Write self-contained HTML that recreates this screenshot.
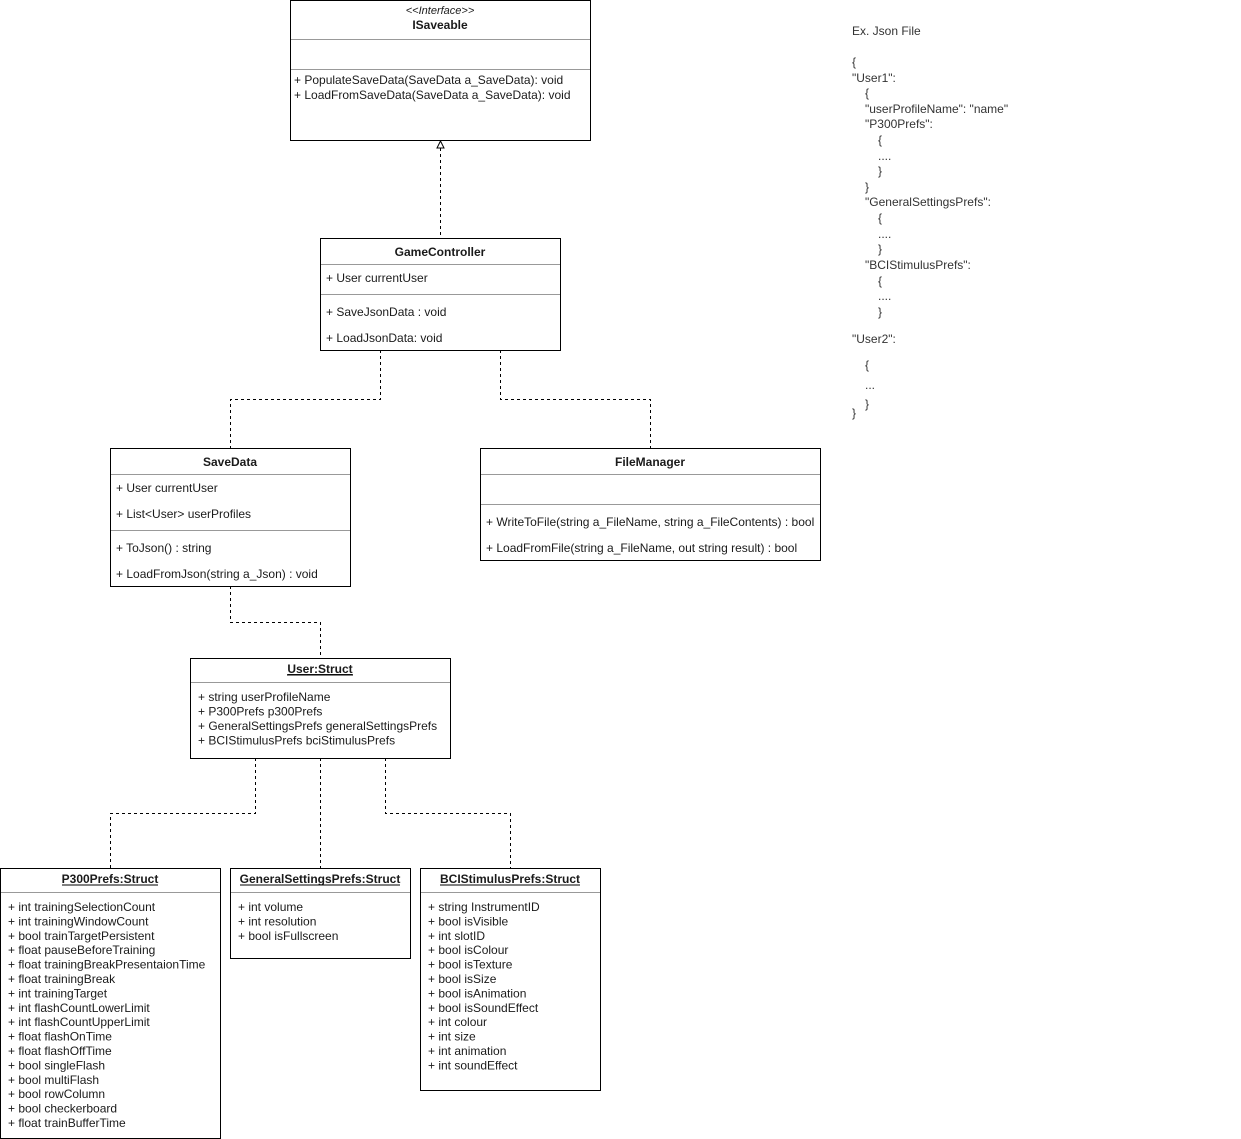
<!DOCTYPE html>
<html><head><meta charset="utf-8"><style>
html,body{margin:0;padding:0;background:#fff;}
svg{display:block;}
text{font-family:"Liberation Sans",Arial,sans-serif;font-size:12px;fill:#1a1a1a;}
.b{font-weight:bold;}
.c{text-anchor:middle;}
.j{fill:#333;}
</style></head><body>
<svg width="1241" height="1139" viewBox="0 0 1241 1139" xmlns="http://www.w3.org/2000/svg">
<g fill="none" stroke="#000" stroke-width="1" stroke-dasharray="3,3">
<line x1="440.5" y1="148" x2="440.5" y2="238"/>
<polyline points="380.5,350 380.5,399.5 230.5,399.5 230.5,448"/>
<polyline points="500.5,350 500.5,399.5 650.5,399.5 650.5,448"/>
<polyline points="230.5,586 230.5,622.5 320.5,622.5 320.5,658"/>
<polyline points="255.5,758 255.5,813.5 110.5,813.5 110.5,868"/>
<line x1="320.5" y1="758" x2="320.5" y2="868"/>
<polyline points="385.5,758 385.5,813.5 510.5,813.5 510.5,868"/>
</g>
<polygon points="440.5,141 437,148 444,148" fill="#fff" stroke="#000"/>
<g fill="#fff" stroke="#000">
<rect x="290.5" y="0.5" width="300" height="140"/>
<rect x="320.5" y="238.5" width="240" height="112"/>
<rect x="110.5" y="448.5" width="240" height="138"/>
<rect x="480.5" y="448.5" width="340" height="112"/>
<rect x="190.5" y="658.5" width="260" height="100"/>
<rect x="0.5" y="868.5" width="220" height="270"/>
<rect x="230.5" y="868.5" width="180" height="90"/>
<rect x="420.5" y="868.5" width="180" height="222"/>
</g>
<g stroke="#999">
<line x1="291" y1="39.5" x2="590" y2="39.5"/><line x1="291" y1="69.5" x2="590" y2="69.5"/>
<line x1="321" y1="264.5" x2="560" y2="264.5"/><line x1="321" y1="294.5" x2="560" y2="294.5"/>
<line x1="111" y1="474.5" x2="350" y2="474.5"/><line x1="111" y1="530.5" x2="350" y2="530.5"/>
<line x1="481" y1="474.5" x2="820" y2="474.5"/><line x1="481" y1="504.5" x2="820" y2="504.5"/>
<line x1="191" y1="682.5" x2="450" y2="682.5"/>
<line x1="1" y1="892.5" x2="220" y2="892.5"/>
<line x1="231" y1="892.5" x2="410" y2="892.5"/>
<line x1="421" y1="892.5" x2="600" y2="892.5"/>
</g>
<text x="440" y="14" class="c" font-style="italic" style="font-size:11px">&lt;&lt;Interface&gt;&gt;</text>
<text x="440" y="29" class="c b">ISaveable</text>
<text x="294" y="84">+ PopulateSaveData(SaveData a_SaveData): void</text>
<text x="294" y="99">+ LoadFromSaveData(SaveData a_SaveData): void</text>

<text x="440" y="256" class="c b">GameController</text>
<text x="326" y="282">+ User currentUser</text>
<text x="326" y="316">+ SaveJsonData : void</text>
<text x="326" y="342">+ LoadJsonData: void</text>

<text x="230" y="466" class="c b">SaveData</text>
<text x="116" y="492">+ User currentUser</text>
<text x="116" y="518">+ List&lt;User&gt; userProfiles</text>
<text x="116" y="552">+ ToJson() : string</text>
<text x="116" y="578">+ LoadFromJson(string a_Json) : void</text>

<text x="650" y="466" class="c b">FileManager</text>
<text x="486" y="526">+ WriteToFile(string a_FileName, string a_FileContents) : bool</text>
<text x="486" y="552">+ LoadFromFile(string a_FileName, out string result) : bool</text>

<text x="320" y="673" class="c b" text-decoration="underline">User:Struct</text>
<line x1="287" y1="675" x2="353" y2="675" stroke="#000"/>
<text x="198" y="701">+ string userProfileName</text>
<text x="198" y="715.5">+ P300Prefs p300Prefs</text>
<text x="198" y="730">+ GeneralSettingsPrefs generalSettingsPrefs</text>
<text x="198" y="744.5">+ BCIStimulusPrefs bciStimulusPrefs</text>

<text x="110" y="883" class="c b">P300Prefs:Struct</text>
<line x1="62" y1="885" x2="158" y2="885" stroke="#000"/>
<text x="320" y="883" class="c b">GeneralSettingsPrefs:Struct</text>
<line x1="240" y1="885" x2="400" y2="885" stroke="#000"/>
<text x="510" y="883" class="c b">BCIStimulusPrefs:Struct</text>
<line x1="440" y1="885" x2="580" y2="885" stroke="#000"/>

<g>
<text x="8" y="911">+ int trainingSelectionCount</text>
<text x="8" y="925.4">+ int trainingWindowCount</text>
<text x="8" y="939.8">+ bool trainTargetPersistent</text>
<text x="8" y="954.2">+ float pauseBeforeTraining</text>
<text x="8" y="968.6">+ float trainingBreakPresentaionTime</text>
<text x="8" y="983">+ float trainingBreak</text>
<text x="8" y="997.4">+ int trainingTarget</text>
<text x="8" y="1011.8">+ int flashCountLowerLimit</text>
<text x="8" y="1026.2">+ int flashCountUpperLimit</text>
<text x="8" y="1040.6">+ float flashOnTime</text>
<text x="8" y="1055">+ float flashOffTime</text>
<text x="8" y="1069.4">+ bool singleFlash</text>
<text x="8" y="1083.8">+ bool multiFlash</text>
<text x="8" y="1098.2">+ bool rowColumn</text>
<text x="8" y="1112.6">+ bool checkerboard</text>
<text x="8" y="1127">+ float trainBufferTime</text>
</g>
<g>
<text x="238" y="911">+ int volume</text>
<text x="238" y="925.4">+ int resolution</text>
<text x="238" y="939.8">+ bool isFullscreen</text>
</g>
<g>
<text x="428" y="911">+ string InstrumentID</text>
<text x="428" y="925.4">+ bool isVisible</text>
<text x="428" y="939.8">+ int slotID</text>
<text x="428" y="954.2">+ bool isColour</text>
<text x="428" y="968.6">+ bool isTexture</text>
<text x="428" y="983">+ bool isSize</text>
<text x="428" y="997.4">+ bool isAnimation</text>
<text x="428" y="1011.8">+ bool isSoundEffect</text>
<text x="428" y="1026.2">+ int colour</text>
<text x="428" y="1040.6">+ int size</text>
<text x="428" y="1055">+ int animation</text>
<text x="428" y="1069.4">+ int soundEffect</text>
</g>

<g class="j">
<text x="852" y="35" class="j">Ex. Json File</text>
<text x="852" y="66" class="j">{</text>
<text x="852" y="82" class="j">"User1":</text>
<text x="865" y="97" class="j">{</text>
<text x="865" y="113" class="j">"userProfileName":  "name"</text>
<text x="865" y="128" class="j">"P300Prefs":</text>
<text x="878" y="144" class="j">{</text>
<text x="878" y="160" class="j">....</text>
<text x="878" y="175" class="j">}</text>
<text x="865" y="191" class="j">}</text>
<text x="865" y="206" class="j">"GeneralSettingsPrefs":</text>
<text x="878" y="222" class="j">{</text>
<text x="878" y="238" class="j">....</text>
<text x="878" y="253" class="j">}</text>
<text x="865" y="269" class="j">"BCIStimulusPrefs":</text>
<text x="878" y="285" class="j">{</text>
<text x="878" y="300" class="j">....</text>
<text x="878" y="316" class="j">}</text>
<text x="852" y="343" class="j">"User2":</text>
<text x="865" y="369" class="j">{</text>
<text x="865" y="389" class="j">...</text>
<text x="865" y="408" class="j">}</text>
<text x="852" y="417" class="j">}</text>
</g>
</svg>
</body></html>
